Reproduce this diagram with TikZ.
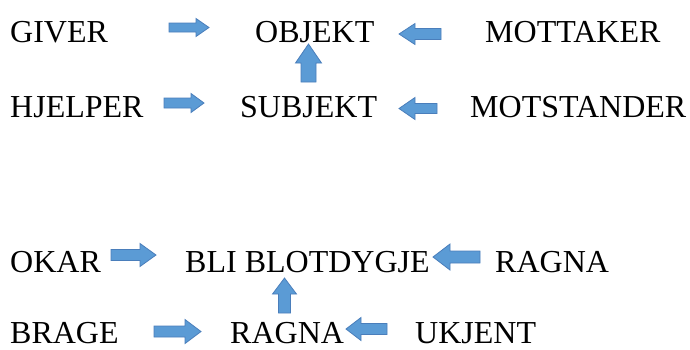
\documentclass[tikz,border=0pt]{standalone}
\usepackage{fontspec}
\setmainfont{Liberation Serif}
\definecolor{arrowfill}{HTML}{5B9BD5}
\definecolor{arrowline}{HTML}{4A7EBB}
\begin{document}
\begin{tikzpicture}[x=1pt,y=1pt,
  lbl/.style={anchor=base west,inner sep=0pt,font=\fontsize{32}{36}\selectfont},
  barrowstyle/.style={fill=arrowfill,draw=arrowline,line width=0.8pt,line join=miter},
  pics/barrow/.style n args={4}{code={
    \path[barrowstyle] (0,-#3/2) -- (#1-#4,-#3/2) -- (#1-#4,-#2/2) -- (#1,0)
      -- (#1-#4,#2/2) -- (#1-#4,#3/2) -- (0,#3/2) -- cycle;}}]
\useasboundingbox (0,0) rectangle (690,-349);
% row 1
\node[lbl] (giver) at (10,-42) {GIVER};
\node[lbl] (objekt) at (255,-42) {OBJEKT};
\node[lbl] (mottaker) at (485,-42) {MOTTAKER};
% row 2
\node[lbl] (hjelper) at (10,-117.5) {HJELPER};
\node[lbl] (subjekt) at (240,-117.5) {SUBJEKT};
\node[lbl] (motstander) at (470,-117.5) {MOTSTANDER};
% row 3
\node[lbl] (okar) at (10,-272) {OKAR};
\node[lbl] (bli) at (185,-272) {BLI BLOTDYGJE};
\node[lbl] (ragna1) at (495,-272) {RAGNA};
% row 4
\node[lbl] (brage) at (10,-343) {BRAGE};
\node[lbl] (ragna2) at (230,-343) {RAGNA};
\node[lbl] (ukjent) at (415,-343) {UKJENT};
% arrows, upper diagram
\pic at (169,-27.5) {barrow={40}{18}{9}{13}};
\pic[rotate=180] at (441,-34) {barrow={42}{21}{11}{16}};
\pic[rotate=90] at (308.5,-82) {barrow={38}{26}{15}{19}};
\pic at (164,-103) {barrow={40}{19}{10}{13}};
\pic[rotate=180] at (437,-108.5) {barrow={38}{22}{10}{16}};
% arrows, lower diagram
\pic at (111,-255) {barrow={45}{23}{11}{16}};
\pic[rotate=180] at (480,-257) {barrow={47}{26}{12}{17}};
\pic[rotate=90] at (284.5,-313) {barrow={35}{24}{12}{16}};
\pic at (154,-331.5) {barrow={47}{24}{11}{16}};
\pic[rotate=180] at (387,-329) {barrow={41}{23}{11}{15}};
\end{tikzpicture}
\end{document}
